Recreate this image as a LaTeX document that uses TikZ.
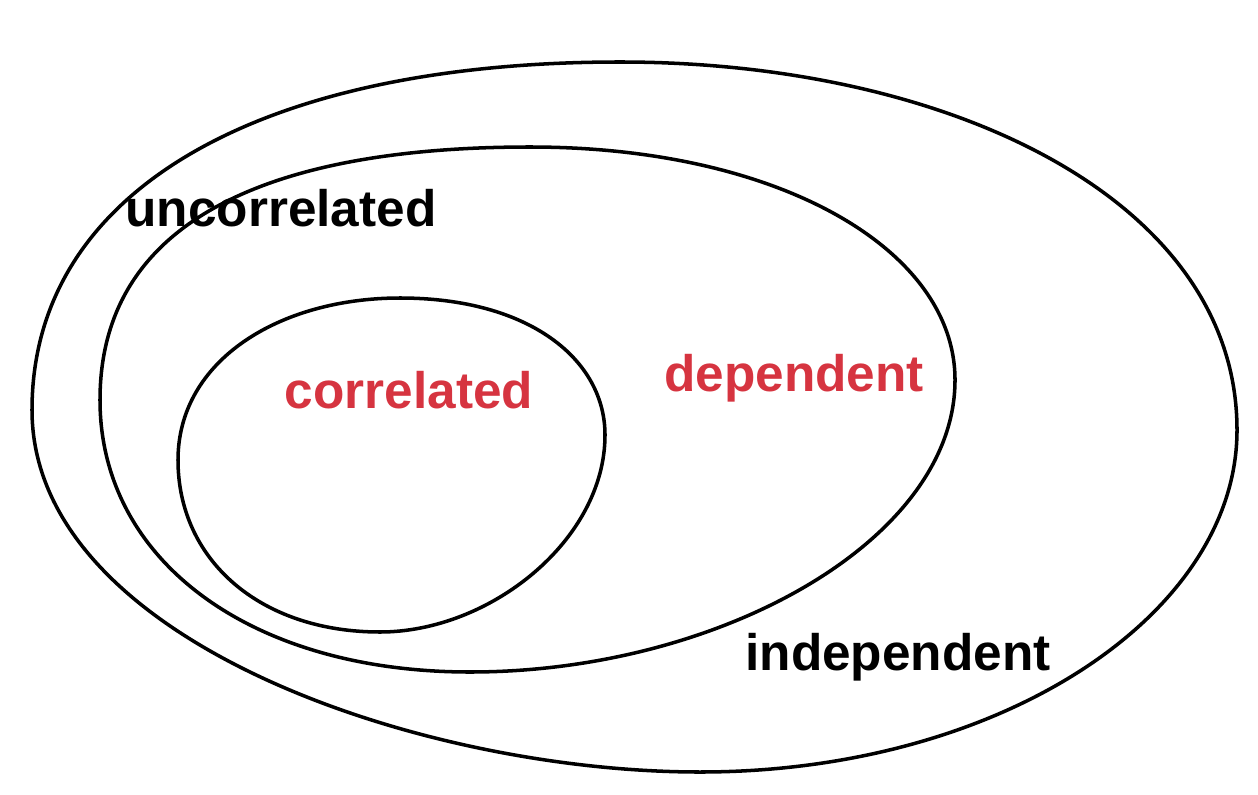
\documentclass[tikz,border=0pt]{standalone}
\usepackage{fontspec}
\setmainfont{Liberation Sans}
\definecolor{setred}{RGB}{214,52,64}
\tikzset{
  blob/.style={line width=1pt},
  setlabel/.style={font=\fontsize{14.6}{16}\selectfont\bfseries, inner sep=0pt}
}
\begin{document}
\begin{tikzpicture}[x=0.01cm,y=-0.01cm]
\useasboundingbox (0,0) rectangle (1258,794);

% independent (outer set)
\draw[blob] (32,410) .. controls (32,190) and (260,62) .. (620,62)
  .. controls (950,62) and (1237,200) .. (1237,430)
  .. controls (1237,615) and (1000,772) .. (700,772)
  .. controls (420,772) and (32,640) .. (32,410) -- cycle;

% dependent
\draw[blob] (100,400) .. controls (100,215) and (280,147) .. (530,147)
  .. controls (780,147) and (955,250) .. (955,380)
  .. controls (955,540) and (720,672) .. (470,672)
  .. controls (250,672) and (100,560) .. (100,400) -- cycle;

% correlated
\draw[blob] (178,460) .. controls (178,360) and (280,298) .. (400,298)
  .. controls (530,298) and (605,360) .. (605,435)
  .. controls (605,540) and (490,632) .. (380,632)
  .. controls (260,632) and (178,560) .. (178,460) -- cycle;

\node[setlabel] (uncorr) at (281,208) {uncorrelated};
\node[setlabel, text=setred] (corr) at (409,390) {correlated};
\node[setlabel, text=setred] (dep) at (794,378) {dependent};
\node[setlabel] (indep) at (898,657) {independent};
\end{tikzpicture}
\end{document}
